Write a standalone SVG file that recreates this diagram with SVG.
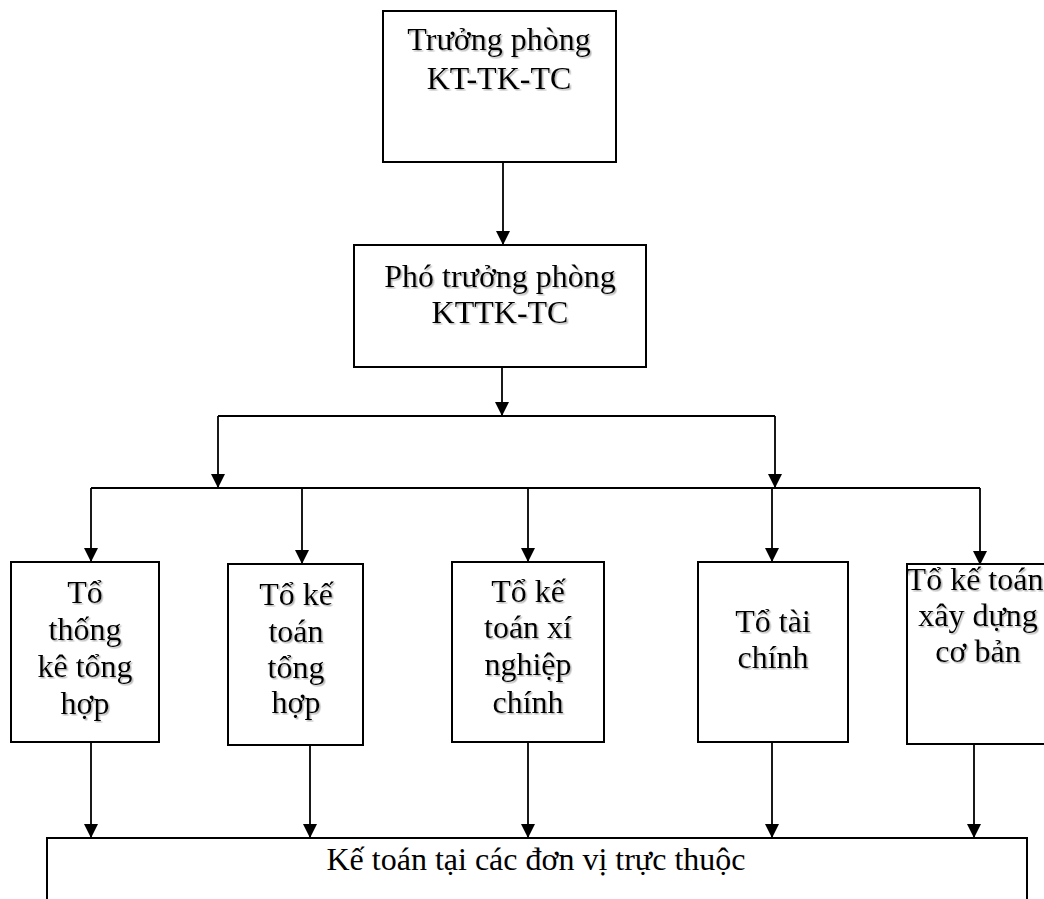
<svg xmlns="http://www.w3.org/2000/svg" width="1044" height="899" viewBox="0 0 1044 899">
  <style>
    .box { fill: #ffffff; stroke: #000000; stroke-width: 2; }
    .lbl { font-family: "Liberation Serif", "Times New Roman", serif; font-size: 32px; fill: #000000; text-anchor: middle; }
    .shd { filter: url(#shadow); }
    .wire { fill: none; stroke: #000000; stroke-width: 1.8; }
    .arrow { marker-end: url(#head); }
  </style>
  <defs>
    <marker id="head" viewBox="0 0 14 14" refX="14" refY="7" markerWidth="14" markerHeight="14" markerUnits="userSpaceOnUse" orient="auto">
      <path d="M0,0 L14,7 L0,14 z" fill="#000000"/>
    </marker>
    <filter id="shadow" x="-10%" y="-10%" width="120%" height="130%">
      <feDropShadow dx="1.5" dy="1.5" stdDeviation="0.6" flood-color="#888888" flood-opacity="0.6"/>
    </filter>
  </defs>

  <rect width="1044" height="899" fill="#ffffff"/>

  <!-- connectors -->
  <g id="connectors">
    <path class="wire arrow" d="M503,162 V245"/>
    <path class="wire arrow" d="M502,367 V416"/>
    <path class="wire" d="M218,416 H775"/>
    <path class="wire arrow" d="M218,416 V488"/>
    <path class="wire arrow" d="M775,416 V488"/>
    <path class="wire" d="M91,488 H980"/>
    <path class="wire arrow" d="M91,488 V562"/>
    <path class="wire arrow" d="M302,488 V564"/>
    <path class="wire arrow" d="M528,488 V562"/>
    <path class="wire arrow" d="M772,488 V562"/>
    <path class="wire arrow" d="M980,488 V565"/>
    <path class="wire arrow" d="M91,742 V838"/>
    <path class="wire arrow" d="M310,745 V838"/>
    <path class="wire arrow" d="M528,742 V838"/>
    <path class="wire arrow" d="M772,742 V838"/>
    <path class="wire arrow" d="M974,744 V838"/>
  </g>

  <!-- head of department -->
  <g id="truong-phong">
    <rect class="box" x="383" y="11" width="233" height="151"/>
    <text class="lbl shd" x="499" y="50">Trưởng phòng</text>
    <text class="lbl shd" x="499" y="89">KT-TK-TC</text>
  </g>

  <!-- deputy head -->
  <g id="pho-truong-phong">
    <rect class="box" x="354" y="245" width="292" height="122"/>
    <text class="lbl shd" x="500" y="287">Phó trưởng phòng</text>
    <text class="lbl shd" x="500" y="323">KTTK-TC</text>
  </g>

  <!-- teams -->
  <g id="to-thong-ke">
    <rect class="box" x="11" y="562" width="148" height="180"/>
    <text class="lbl shd" x="85" y="603">Tổ</text>
    <text class="lbl shd" x="85" y="640">thống</text>
    <text class="lbl shd" x="85" y="677">kê tổng</text>
    <text class="lbl shd" x="85" y="714">hợp</text>
  </g>

  <g id="to-ke-toan-tong-hop">
    <rect class="box" x="228" y="564" width="135" height="181"/>
    <text class="lbl shd" x="296" y="605">Tổ kế</text>
    <text class="lbl shd" x="296" y="642">toán</text>
    <text class="lbl shd" x="296" y="678">tổng</text>
    <text class="lbl shd" x="296" y="713">hợp</text>
  </g>

  <g id="to-ke-toan-xi-nghiep">
    <rect class="box" x="452" y="562" width="152" height="180"/>
    <text class="lbl shd" x="528" y="602">Tổ kế</text>
    <text class="lbl shd" x="528" y="638">toán xí</text>
    <text class="lbl shd" x="528" y="675">nghiệp</text>
    <text class="lbl shd" x="528" y="713">chính</text>
  </g>

  <g id="to-tai-chinh">
    <rect class="box" x="698" y="562" width="150" height="180"/>
    <text class="lbl shd" x="773" y="632">Tổ tài</text>
    <text class="lbl shd" x="773" y="668">chính</text>
  </g>

  <g id="to-xay-dung-co-ban">
    <rect class="box" x="907" y="564" width="143" height="180"/>
    <text class="lbl shd" x="975" y="590">Tổ kế toán</text>
    <text class="lbl shd" x="978" y="626">xây dựng</text>
    <text class="lbl shd" x="978" y="662">cơ bản</text>
  </g>

  <!-- subsidiary accounting -->
  <g id="ke-toan-don-vi">
    <rect class="box" x="47" y="838" width="980" height="80"/>
    <text class="lbl" x="536" y="870">Kế toán tại các đơn vị trực thuộc</text>
  </g>
</svg>
